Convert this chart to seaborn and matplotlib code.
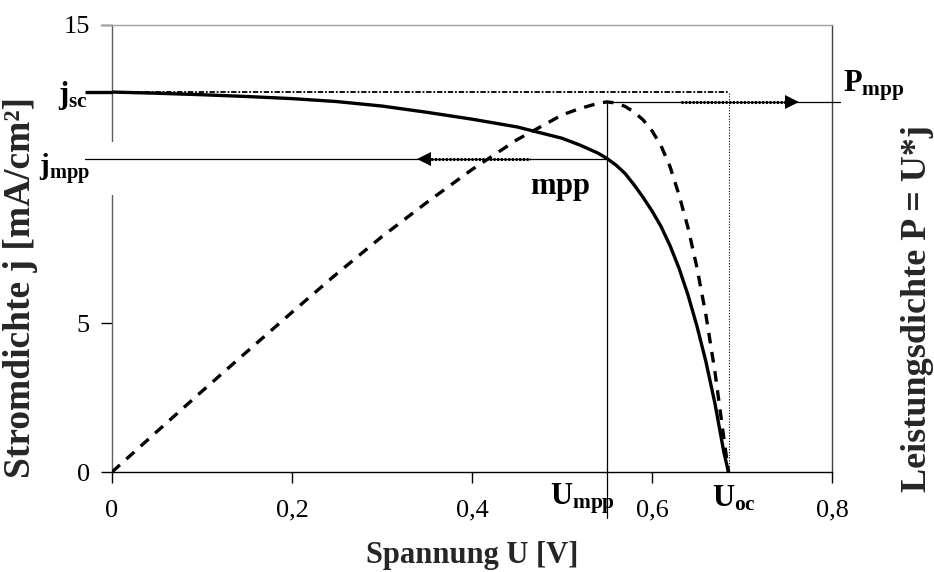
import matplotlib
matplotlib.use("Agg")
import matplotlib.pyplot as plt
import seaborn as sns
import pandas as pd
from matplotlib.patches import Rectangle

# ---- data ----
U = [0, 0.05, 0.1, 0.15, 0.2, 0.25, 0.3, 0.35, 0.4, 0.45, 0.5, 0.52, 0.54,
     0.55, 0.56, 0.57, 0.58, 0.59, 0.60, 0.61, 0.62, 0.63, 0.64, 0.65, 0.66,
     0.67, 0.68, 0.685]
j = [12.75, 12.71, 12.66, 12.6, 12.53, 12.43, 12.28, 12.07, 11.84, 11.58, 11.2,
     10.97, 10.7, 10.52, 10.3, 10.02, 9.64, 9.22, 8.76, 8.24, 7.6, 6.84, 5.94,
     4.89, 3.69, 2.29, 0.64, 0.0]
P = [0, 1.36, 2.71, 4.04, 5.36, 6.66, 7.9, 9.05, 10.15, 11.15, 11.98, 12.2,
     12.37, 12.42, 12.38, 12.27, 12.08, 11.82, 11.45, 10.95, 10.25, 9.3, 8.2,
     6.85, 5.25, 3.35, 1.1, 0.0]

U_mpp = 0.55
j_mpp = 10.5
j_sc = 12.75
P_mpp = 12.42
U_oc = 0.686

x_ticks = [0, 0.2, 0.4, 0.6, 0.8]
x_ticklabels = ["0", "0,2", "0,4", "0,6", "0,8"]
y_ticks = [0, 5, 10, 15]
y_ticklabels = ["0", "5", "", "15"]

df = pd.DataFrame({"U": U, "j": j, "P": P})

sns.set_style("white")
plt.rcParams["font.family"] = ["Liberation Serif", "DejaVu Serif"]
plt.rcParams["mathtext.fontset"] = "custom"
plt.rcParams["mathtext.rm"] = "Liberation Serif"
plt.rcParams["mathtext.bf"] = "Liberation Serif:bold"
plt.rcParams["mathtext.it"] = "Liberation Serif:italic"

fig = plt.figure(figsize=(9.34, 5.72), dpi=100)
ax = fig.add_axes([0.1199, 0.1748, 0.7709, 0.7815])

ax.set_xlim(0, 0.8)
ax.set_ylim(0, 15)

# curves
sns.lineplot(data=df, x="U", y="j", ax=ax, color="black", lw=2.4,
             sort=False, zorder=5)
sns.lineplot(data=df, x="U", y="P", ax=ax, color="black", lw=2.4,
             linestyle=(0, (3.2, 2.6)), sort=False, zorder=5)
ax.set_ylabel("")

# jsc extension and dotted frame
ax.plot([-0.03, 0], [j_sc, j_sc], color="black", lw=2.4, clip_on=False,
        solid_capstyle="butt", zorder=5)
ax.plot([0, U_oc], [j_sc, j_sc], color="black", lw=1.3,
        linestyle=(0, (3, 1.0, 1, 1.0)), zorder=4)
ax.plot([U_oc, U_oc], [0, j_sc], color="black", lw=0.8,
        linestyle=(0, (1, 1.5)), zorder=4)

# white box hiding part of the left spine / the 10 tick
ax.add_patch(Rectangle((-0.02, 9.3), 0.024, 1.77, facecolor="white",
                       edgecolor="none", clip_on=False, zorder=3))

# mpp lines
ax.plot([-0.03, U_mpp], [j_mpp, j_mpp], color="black", lw=0.9,
        clip_on=False, zorder=4)
ax.plot([U_mpp, U_mpp], [-1.55, P_mpp], color="black", lw=0.9,
        clip_on=False, zorder=4)
ax.plot([U_mpp, 0.809], [P_mpp, P_mpp], color="black", lw=0.9,
        clip_on=False, zorder=4)

# arrows
ax.plot([0.35, 0.464], [j_mpp, j_mpp], color="black", lw=2.2,
        linestyle=(0, (0.7, 0.5)), zorder=4)
ax.plot([0.347], [j_mpp], marker="<", markersize=10, color="black",
        markeredgewidth=0, zorder=4)
ax.plot([0.632, 0.752], [P_mpp, P_mpp], color="black", lw=2.2,
        linestyle=(0, (0.7, 0.5)), zorder=4)
ax.plot([0.755], [P_mpp], marker=">", markersize=10, color="black",
        markeredgewidth=0, zorder=4)

# spines
ax.spines["top"].set_color("#a0a0a0")
ax.spines["right"].set_color("#404040")
ax.spines["left"].set_color("#606060")
ax.spines["bottom"].set_color("black")
for s in ax.spines.values():
    s.set_linewidth(1.0)
ax.spines["top"].set_bounds(-0.012, 0.8)

ax.set_xticks(x_ticks)
ax.set_xticklabels(x_ticklabels)
ax.set_yticks(y_ticks)
ax.set_yticklabels(y_ticklabels)
ax.tick_params(axis="both", direction="out", length=8, width=1,
               labelsize=19, colors="black", bottom=True, left=True)
ax.tick_params(axis="x", pad=12)
ax.tick_params(axis="y", pad=8)

ax.set_xlabel("Spannung U [V]", fontsize=22, fontweight="bold")
ax.xaxis.set_label_coords(0.5, -0.155)
fig.text(0.022, 0.498, "Stromdichte j [mA/cm²]", rotation=90,
         fontsize=27, fontweight="bold", ha="center", va="center")
fig.text(0.982, 0.46, "Leistungsdichte P = U*j", rotation=90,
         fontsize=26, fontweight="bold", ha="center", va="center")

# annotations
lab = dict(fontsize=22, color="black", clip_on=False, zorder=6)
ax.text(-0.027, j_sc - 0.1, r"$\mathbf{j}_{\mathbf{sc}}$", ha="right", va="center", **lab)
ax.text(-0.024, j_mpp - 0.35, r"$\mathbf{j}_{\mathbf{mpp}}$", ha="right", va="center",
        fontsize=21, color="black", clip_on=False, zorder=6)
ax.text(0.498, 9.5, r"$\mathbf{mpp}$", ha="center", va="center", **lab)
ax.text(0.812, 12.95, r"$\mathbf{P}_{\mathbf{mpp}}$", ha="left", va="center", **lab)
ax.text(0.487, -0.9, r"$\mathbf{U}_{\mathbf{mpp}}$", ha="left", va="center", **lab)
ax.text(0.667, -0.9, r"$\mathbf{U}_{\mathbf{oc}}$", ha="left", va="center", **lab)

fig.savefig("out.png", dpi=100)
